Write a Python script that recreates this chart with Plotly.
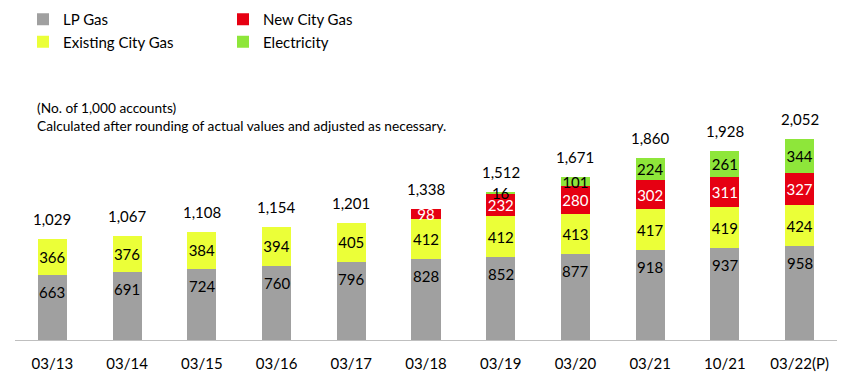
import plotly.graph_objects as go

categories = ["03/13", "03/14", "03/15", "03/16", "03/17", "03/18", "03/19", "03/20", "03/21", "10/21", "03/22(P)"]
lp_gas = [663, 691, 724, 760, 796, 828, 852, 877, 918, 937, 958]
existing_city_gas = [366, 376, 384, 394, 405, 412, 412, 413, 417, 419, 424]
new_city_gas = [0, 0, 0, 0, 0, 98, 232, 280, 302, 311, 327]
electricity = [0, 0, 0, 0, 0, 0, 16, 101, 224, 261, 344]
totals = [1029, 1067, 1108, 1154, 1201, 1338, 1512, 1671, 1860, 1928, 2052]

FONT = "Lato"
C_LP = "#A0A0A0"
C_EX = "#EBFF38"
C_NEW = "#E60012"
C_EL = "#8EE63A"

def lbl(vals):
    return [f"{v:,}" if v else "" for v in vals]

fig = go.Figure()
common = dict(width=0.39, textposition="inside", textangle=0, constraintext="none",
              insidetextanchor="middle", marker_line_width=0)
fig.add_trace(go.Bar(name="LP Gas", x=categories, y=lp_gas, marker_color=C_LP,
                     legend="legend", hoverinfo="y", **common))
fig.add_trace(go.Bar(name="Existing City Gas", x=categories, y=existing_city_gas, marker_color=C_EX,
                     text=lbl(existing_city_gas), textfont=dict(color="#000000", size=15, family=FONT),
                     legend="legend", **common))
fig.add_trace(go.Bar(name="New City Gas", x=categories, y=new_city_gas, marker_color=C_NEW,
                     text=lbl(new_city_gas), textfont=dict(color="#FFFFFF", size=15, family=FONT),
                     legend="legend2", **common))
fig.add_trace(go.Bar(name="Electricity", x=categories, y=electricity, marker_color=C_EL,
                     text=lbl(electricity), textfont=dict(color="#000000", size=15, family=FONT),
                     legend="legend2", **common))

annotations = []
for c, v in zip(categories, lp_gas):
    annotations.append(dict(x=c, y=v, xref="x", yref="y", text=f"{v:,}", showarrow=False,
                            yanchor="middle", yshift=-17,
                            font=dict(family=FONT, size=15, color="#000000")))
for c, t in zip(categories, totals):
    annotations.append(dict(x=c, y=t, xref="x", yref="y", text=f"{t:,}", showarrow=False,
                            yanchor="bottom", yshift=9,
                            font=dict(family=FONT, size=15, color="#000000")))
annotations.append(dict(x=(35 - 15) / 822, y=1 - 97 / 340, xref="paper", yref="paper",
                        xanchor="left", yanchor="top", align="left", showarrow=False,
                        text="(No. of 1,000 accounts)<br>Calculated after rounding of actual values and adjusted as necessary.",
                        font=dict(family=FONT, size=13.7, color="#000000")))

legend_common = dict(orientation="v", yanchor="top", xanchor="left", traceorder="normal",
                     font=dict(family=FONT, size=15, color="#000000"), bgcolor="rgba(0,0,0,0)",
                     itemwidth=30, tracegroupgap=0)

fig.update_layout(
    barmode="stack",
    width=861, height=374,
    margin=dict(l=15, r=24, t=0, b=34),
    paper_bgcolor="white", plot_bgcolor="white",
    font=dict(family=FONT, size=15, color="#000000"),
    showlegend=True,
    legend=dict(x=(23 - 15) / 822, y=1 - 3 / 340, **legend_common),
    legend2=dict(x=(223 - 15) / 822, y=1 - 3 / 340, **legend_common),
    annotations=annotations,
)
fig.update_xaxes(showline=True, linecolor="#BFBFBF", linewidth=1, ticks="", showgrid=False,
                 tickfont=dict(family=FONT, size=15, color="#000000"), ticklabelstandoff=10)
fig.update_yaxes(range=[0, 3477], visible=False, showgrid=False)

fig.write_html("out.html", config={"displayModeBar": False},
               post_script="document.body.style.margin='0';")
